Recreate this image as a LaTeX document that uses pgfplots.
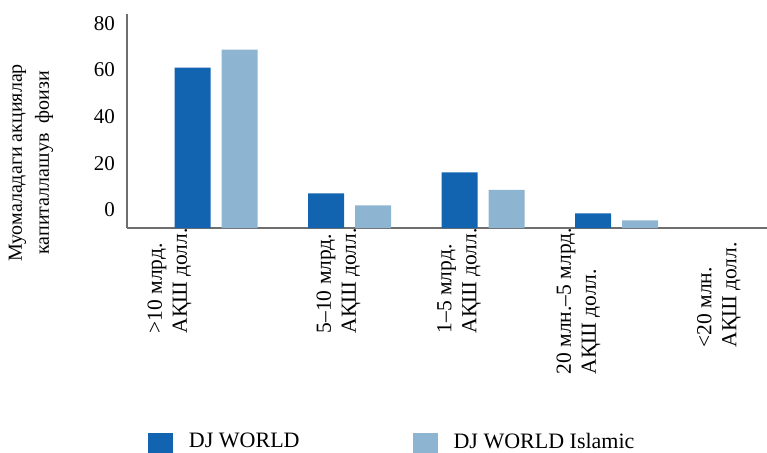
\documentclass[border=0pt]{standalone}
\usepackage{fontspec}
\setmainfont{Liberation Serif}
\usepackage{pgfplots}
\pgfplotsset{compat=1.18}
\definecolor{djw}{HTML}{1264B0}
\definecolor{dji}{HTML}{8DB4D0}
\definecolor{axgray}{HTML}{6E6E6E}
\begin{document}
\begin{tikzpicture}
\path[use as bounding box] (0,0) rectangle (767pt,452pt);
\begin{axis}[
  at={(127pt,224pt)}, anchor=south west,
  scale only axis, width=640pt, height=214pt,
  xmin=-0.667, xmax=4.127,
  ymin=-7.7, ymax=84,
  y coord trafo/.code={\pgfmathparse{#1+7.7}},
  y coord inv trafo/.code={\pgfmathparse{#1-7.7}},
  axis lines*=left,
  axis line style={axgray, line width=1.4pt},
  major tick length=0pt,
  ytick={0,20,40,60,80},
  yticklabels={0,20,40,60,80},
  /pgf/number format/assume math mode=true,
  yticklabel style={font=\fontsize{21}{24}\selectfont, inner sep=2pt, xshift=-10pt},
  xtick={-0.348,0.918,1.820,2.715,3.768},
  xticklabels={{>10 млрд.\\АҚШ долл.},{5–10 млрд.\\АҚШ долл.},{1–5 млрд.\\АҚШ долл.},{20 млн.–5 млрд.\\АҚШ долл.},{<20 млн.\hspace*{14pt}\\АҚШ долл.\hspace*{14pt}}},
  xticklabel style={font=\fontsize{21.5}{25}\selectfont, rotate=90, anchor=east, align=left, inner sep=0pt},
  ylabel={Муомаладаги акциялар\\капиталлашув\ \ фоизи},
  every axis y label/.style={at={(axis description cs:-0.15,0.304)}, rotate=90, anchor=center, align=center, font=\fontsize{20}{27}\selectfont},
  ybar=11pt, bar width=36pt,
  legend columns=2,
  legend image code/.code={\fill[#1] (0pt,-16.7pt) rectangle (25pt,8.3pt);},
  legend style={at={(axis description cs:0.0328,-0.958)}, anchor=north west, draw=none, inner sep=0pt, outer sep=0pt,
    font=\fontsize{22}{26}\selectfont, nodes={inner sep=0pt},
    /tikz/every even column/.append style={column sep=113pt},
    /tikz/every odd column/.append style={column sep=16pt}},
]
\addplot[fill=djw, draw=none] coordinates {(0,61.0) (1,7.1) (2,16.1) (3,-1.4)};
\addplot[fill=dji, draw=none] coordinates {(0,68.7) (1,2.0) (2,8.6) (3,-4.4)};
\legend{DJ WORLD, DJ WORLD Islamic}
\end{axis}
\end{tikzpicture}
\end{document}
